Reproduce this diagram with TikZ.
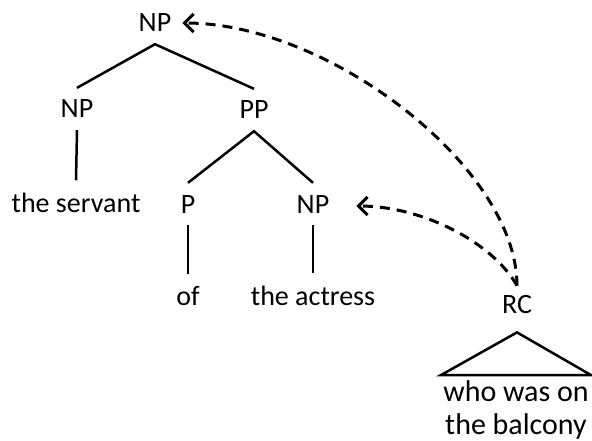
\documentclass[tikz,border=0pt]{standalone}
\usepackage{fontspec}
\setmainfont{Carlito}
\usetikzlibrary{arrows.meta}
\begin{document}
\begin{tikzpicture}[x=1pt,y=-1pt,
  lab/.style={font=\fontsize{28}{33}\selectfont, inner xsep=0pt, inner ysep=12pt, anchor=base},
  branch/.style={line width=2.5pt},
  movearrow/.style={line width=3pt, dash pattern=on 10pt off 7pt,
    -{Straight Barb[length=9pt,width=18pt,line width=3pt]}}
]
\fill[white] (0,0) rectangle (592,441);
\useasboundingbox (0,0) rectangle (592,441);
\node[lab] (np0) at (155,32) {NP};
\node[lab] (np1) at (77,118) {NP};
\node[lab] (pp) at (254,119) {PP};
\node[lab] (servant) at (76,212) {the servant};
\node[lab] (p) at (188,213) {P};
\node[lab] (np3) at (313,213) {NP};
\node[lab] (of) at (188,305) {of};
\node[lab] (actress) at (313,305) {the actress};
\node[lab] (rc) at (517,313) {RC};
\node[font=\fontsize{30}{33}\selectfont, align=center, inner xsep=2pt, inner ysep=5pt, anchor=north] (who) at (516,375) {who was on\\the balcony};
\draw[branch] (np1.north) -- (np0.south) -- (pp.north);
\draw[branch] (np1.south) -- (servant.north);
\draw[branch] (p.north) -- (pp.south) -- (np3.north);
\draw[branch] (p.south) -- (of.north);
\draw[branch] (np3.south) -- (actress.north);
\draw[branch] ([yshift=-7pt]rc.south) -- (who.north west) -- (who.north east) -- cycle;
\draw[movearrow] ([yshift=-3pt]rc.north) .. controls +(0,-118) and +(147,0) .. ([xshift=11pt]np0.east);
\draw[movearrow] ([yshift=-3pt]rc.north) .. controls +(-25,-44) and +(65,0) .. ([xshift=27pt,yshift=-2pt]np3.east);
\end{tikzpicture}
\end{document}
